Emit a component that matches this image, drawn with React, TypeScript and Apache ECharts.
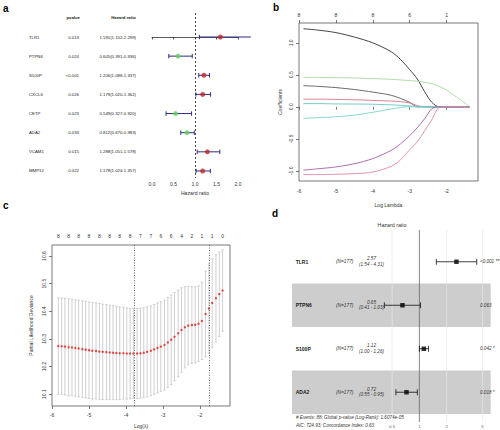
import React, { useEffect, useRef } from 'react';
import * as echarts from 'echarts';

const FONT = '"Liberation Sans", Arial, Helvetica, sans-serif';

// ---------- Panel a: univariate Cox forest ----------
const genesA = ['TLR1', 'PTPN6', 'S100P', 'CXCL6', 'CETP', 'ADA2', 'VCAM1', 'MMP12'];
const pvalA = ['0.013', '0.024', '<0.001', '0.026', '0.023', '0.033', '0.015', '0.022'];
const hrA = [1.591, 0.605, 1.206, 1.179, 0.549, 0.812, 1.288, 1.178];
const loA = [1.102, 0.391, 1.088, 1.02, 0.327, 0.67, 1.051, 1.024];
const hiA = [2.299, 0.936, 1.337, 1.362, 0.92, 0.983, 1.578, 1.357];
const ticksA = [0, 0.5, 1, 1.5, 2];

// ---------- Panel b: LASSO coefficient paths ----------
const lambdaB = [-5.88, -5.5, -5.0, -4.5, -4.0, -3.5, -3.25, -3.0, -2.8, -2.6, -2.4, -2.2, -2.0, -1.8, -1.6, -1.38];
const coefB1 = [1.22, 1.2, 1.16, 1.09, 1.0, 0.86, 0.74, 0.58, 0.44, 0.24, 0.07, 0, 0, 0, 0, 0];
const coefB2 = [0.46, 0.46, 0.455, 0.45, 0.44, 0.43, 0.42, 0.41, 0.4, 0.385, 0.36, 0.32, 0.26, 0.18, 0.1, 0];
const coefB3 = [0.33, 0.32, 0.3, 0.27, 0.23, 0.18, 0.13, 0.07, 0, 0, 0, 0, 0, 0, 0, 0];
const coefB4 = [0.12, 0.12, 0.115, 0.11, 0.1, 0.09, 0.08, 0.06, 0.02, 0, 0, 0, 0, 0, 0, 0];
const coefB5 = [0.05, 0.05, 0.045, 0.043, 0.04, 0.03, 0.023, 0.015, 0, 0, 0, 0, 0, 0, 0, 0];
const coefB6 = [-0.18, -0.17, -0.155, -0.13, -0.085, -0.035, -0.01, 0, 0, 0, 0, 0, 0, 0, 0, 0];
const coefB7 = [-0.99, -0.97, -0.94, -0.89, -0.81, -0.68, -0.58, -0.45, -0.33, -0.19, -0.03, 0, 0, 0, 0, 0];
const coefB8 = [-1.06, -1.06, -1.055, -1.045, -1.02, -0.93, -0.83, -0.67, -0.55, -0.38, -0.2, -0.01, 0, 0, 0, 0];
const pathLabelsB = ['1', '3', '8', '2', '5', '4', '6', '7'];
const pathColorsB = ['#2e2e2e', '#a8d8a0', '#5a5a5a', '#d9738a', '#62c6c6', '#78d2c8', '#a45ca4', '#de86a4'];
const ticksXB = [-6, -5, -4, -3, -2];
const topLabelsB = ['8', '8', '8', '6', '1'];
const ticksYB = [-1, -0.5, 0, 0.5, 1];

// ---------- Panel c: cross-validation curve ----------
const lambdaC = [-5.83, -5.74, -5.65, -5.55, -5.46, -5.37, -5.28, -5.18, -5.09, -5.0, -4.91, -4.81, -4.72, -4.63, -4.53, -4.44, -4.35, -4.26, -4.17, -4.07, -3.98, -3.89, -3.8, -3.7, -3.61, -3.52, -3.43, -3.33, -3.24, -3.15, -3.06, -2.96, -2.87, -2.78, -2.69, -2.59, -2.5, -2.41, -2.32, -2.22, -2.13, -2.04, -1.95, -1.85, -1.76, -1.67, -1.57, -1.48, -1.39];
const meanC = [10.274, 10.273, 10.272, 10.27, 10.269, 10.267, 10.265, 10.263, 10.261, 10.259, 10.257, 10.256, 10.254, 10.253, 10.252, 10.251, 10.25, 10.249, 10.248, 10.248, 10.247, 10.247, 10.247, 10.247, 10.248, 10.25, 10.253, 10.257, 10.262, 10.267, 10.272, 10.278, 10.287, 10.297, 10.308, 10.32, 10.332, 10.342, 10.348, 10.35, 10.351, 10.355, 10.365, 10.39, 10.41, 10.43, 10.447, 10.462, 10.475];
const upperC = [10.449, 10.448, 10.447, 10.446, 10.444, 10.442, 10.44, 10.438, 10.436, 10.434, 10.432, 10.43, 10.428, 10.426, 10.424, 10.422, 10.42, 10.418, 10.416, 10.414, 10.412, 10.411, 10.41, 10.41, 10.411, 10.413, 10.416, 10.42, 10.425, 10.43, 10.435, 10.441, 10.45, 10.459, 10.468, 10.477, 10.485, 10.489, 10.49, 10.489, 10.489, 10.492, 10.505, 10.545, 10.572, 10.59, 10.605, 10.615, 10.622];
const lowerC = [10.099, 10.098, 10.097, 10.094, 10.094, 10.092, 10.09, 10.088, 10.086, 10.084, 10.082, 10.082, 10.08, 10.08, 10.08, 10.08, 10.08, 10.08, 10.08, 10.082, 10.082, 10.083, 10.084, 10.084, 10.085, 10.087, 10.09, 10.094, 10.099, 10.104, 10.109, 10.115, 10.124, 10.135, 10.148, 10.163, 10.179, 10.195, 10.206, 10.211, 10.213, 10.218, 10.225, 10.235, 10.248, 10.27, 10.289, 10.309, 10.328];
const topCountsC = ['8', '8', '8', '8', '8', '8', '8', '8', '7', '7', '6', '6', '4', '2', '1', '1', '0'];
const lambdaMinC = -3.78;
const lambda1seC = -1.75;
const ticksXC = [-6, -5, -4, -3, -2];
const ticksYC = [10.1, 10.2, 10.3, 10.4, 10.5, 10.6];

// ---------- Panel d: multivariate Cox forest ----------
const genesD = ['TLR1', 'PTPN6', 'S100P', 'ADA2'];
const nD = [177, 177, 177, 177];
const hrD = [2.57, 0.65, 1.12, 0.72];
const loD = [1.54, 0.41, 1.0, 0.55];
const hiD = [4.31, 1.03, 1.26, 0.95];
const pD = ['<0.001 ***', '0.063', '0.042 *', '0.018 *'];
const gridLinesD = [0.5, 2, 5];
const tickLabelsD = [0.5, 1, 2, 5];
const footerD = ['# Events: 88; Global p-value (Log-Rank): 1.6074e-05', 'AIC: 724.93; Concordance Index: 0.63'];

function txt(x: number, y: number, text: string, o: any = {}) {
  const fill = o.fill || '#222';
  const align = o.align || 'left';
  return {
    type: 'text',
    x,
    y,
    silent: true,
    style: {
      text,
      fill,
      textFill: fill,
      fontSize: o.size || 4.3,
      fontFamily: FONT,
      fontWeight: o.weight || 'normal',
      fontStyle: o.style || 'normal',
      align,
      verticalAlign: 'middle',
      textAlign: align,
      textVerticalAlign: 'middle',
    },
  };
}

function buildOption(): any {
  const axisTxt = { color: '#333', fontSize: 5, fontFamily: FONT };
  const hiddenX = (gridIndex: number, min: number, max: number) => ({ type: 'value', gridIndex, min, max, show: false });

  const topPosC = lambdaC.filter((_, i) => i % 3 === 0);
  const bSeries = [coefB1, coefB2, coefB3, coefB4, coefB5, coefB6, coefB7, coefB8].map((c, k) => ({
    type: 'line',
    xAxisIndex: 2,
    yAxisIndex: 2,
    showSymbol: false,
    symbol: 'none',
    smooth: 0.3,
    silent: true,
    lineStyle: { color: pathColorsB[k], width: 0.9 },
    data: lambdaB.map((x, i) =>
      i === 0
        ? {
            value: [x, c[i]],
            label: { show: true, position: 'left', distance: 1.5, formatter: pathLabelsB[k], fontSize: 3.5, color: '#333' },
          }
        : [x, c[i]]
    ),
    z: 3 + k,
  }));

  return {
    animation: false,
    textStyle: { fontFamily: FONT },
    grid: [
      { left: 0, top: 13, width: 250, height: 165 },
      { left: 152, top: 13, width: 86, height: 165 },
      { left: 299, top: 23, width: 179, height: 158, show: true, borderColor: '#555', borderWidth: 0.8 },
      { left: 52, top: 245, width: 178, height: 161, show: true, borderColor: '#555', borderWidth: 0.8 },
      { left: 250, top: 230, width: 250, height: 192 },
      { left: 292, top: 230, width: 198.7, height: 192 },
    ],
    xAxis: [
      hiddenX(0, 0, 250),
      {
        type: 'value', gridIndex: 1, min: 0, max: 2, interval: 0.5,
        axisLine: { show: true, lineStyle: { color: '#333', width: 0.8 } },
        axisTick: { show: true, length: 2.5, lineStyle: { color: '#333', width: 0.8 } },
        axisLabel: { ...axisTxt, margin: 3, formatter: (v: number) => v.toFixed(1) },
        splitLine: { show: false },
        name: 'Hazard ratio', nameLocation: 'middle', nameGap: 12, nameTextStyle: { ...axisTxt, fontSize: 5.2 },
      },
      {
        type: 'value', gridIndex: 2, min: -6, max: -1.15, position: 'bottom',
        axisLine: { show: false },
        axisTick: { show: true, customValues: ticksXB, length: 3, lineStyle: { color: '#444', width: 0.7 } },
        axisLabel: { ...axisTxt, customValues: ticksXB, margin: 7 },
        splitLine: { show: false },
        name: 'Log Lambda', nameLocation: 'middle', nameGap: 21, nameTextStyle: { ...axisTxt },
      },
      {
        type: 'value', gridIndex: 2, min: -6, max: -1.15, position: 'top',
        axisLine: { show: false },
        axisTick: { show: true, customValues: ticksXB, length: 3, lineStyle: { color: '#444', width: 0.7 } },
        axisLabel: {
          ...axisTxt, customValues: ticksXB, margin: 6,
          formatter: (v: number) => topLabelsB[ticksXB.indexOf(Math.round(v))] ?? '',
        },
        splitLine: { show: false },
      },
      {
        type: 'value', gridIndex: 3, min: -6, max: -1.19, position: 'bottom',
        axisLine: { show: false },
        axisTick: { show: true, customValues: ticksXC, length: 3, lineStyle: { color: '#444', width: 0.7 } },
        axisLabel: { ...axisTxt, customValues: ticksXC, margin: 6 },
        splitLine: { show: false },
        name: 'Log(λ)', nameLocation: 'middle', nameGap: 17, nameTextStyle: { ...axisTxt },
      },
      {
        type: 'value', gridIndex: 3, min: -6, max: -1.19, position: 'top',
        axisLine: { show: false },
        axisTick: { show: false },
        axisLabel: {
          ...axisTxt, customValues: topPosC, margin: 7,
          formatter: (v: number) => {
            let best = 0;
            topPosC.forEach((p, j) => { if (Math.abs(p - v) < Math.abs(topPosC[best] - v)) best = j; });
            return topCountsC[best];
          },
        },
        splitLine: { show: false },
      },
      hiddenX(4, 0, 250),
      { type: 'log', gridIndex: 5, min: 0.039, max: 6.15, show: false },
    ],
    yAxis: [
      { type: 'value', gridIndex: 0, min: -1.254, max: 7.367, inverse: true, show: false },
      { type: 'value', gridIndex: 1, min: -1.254, max: 7.367, inverse: true, show: false },
      {
        type: 'value', gridIndex: 2, min: -1.16, max: 1.31,
        axisLine: { show: false },
        axisTick: { show: true, customValues: ticksYB, length: 3, lineStyle: { color: '#444', width: 0.7 } },
        axisLabel: { ...axisTxt, customValues: ticksYB, rotate: 90, margin: 6, formatter: (v: number) => v.toFixed(1) },
        splitLine: { show: false },
        name: 'Coefficients', nameLocation: 'middle', nameGap: 17, nameTextStyle: { ...axisTxt },
      },
      {
        type: 'value', gridIndex: 3, min: 10.057, max: 10.64,
        axisLine: { show: false },
        axisTick: { show: true, customValues: ticksYC, length: 3, lineStyle: { color: '#444', width: 0.7 } },
        axisLabel: { ...axisTxt, customValues: ticksYC, rotate: 90, margin: 6, formatter: (v: number) => v.toFixed(1) },
        splitLine: { show: false },
        name: 'Partial Likelihood Deviance', nameLocation: 'middle', nameGap: 19, nameTextStyle: { ...axisTxt },
      },
      { type: 'value', gridIndex: 4, min: -0.23, max: 4.184, inverse: true, show: false },
      { type: 'value', gridIndex: 5, min: -0.23, max: 4.184, inverse: true, show: false },
    ],
    graphic: [
      txt(3, 8, 'a', { size: 10, weight: 'bold', fill: '#000' }),
      txt(273, 7, 'b', { size: 10, weight: 'bold', fill: '#000' }),
      txt(3, 205, 'c', { size: 10, weight: 'bold', fill: '#000' }),
      txt(272, 213, 'd', { size: 10, weight: 'bold', fill: '#000' }),
      txt(392, 225, 'Hazard ratio', { size: 5.3, align: 'center', fill: '#333' }),
      txt(296, 417.7, footerD[0], { size: 4.6, style: 'italic', fill: '#333' }),
      txt(296, 425.3, footerD[1], { size: 4.6, style: 'italic', fill: '#333' }),
    ],
    series: [
      // a: table header
      {
        type: 'custom', xAxisIndex: 0, yAxisIndex: 0, silent: true,
        data: [[-1]],
        renderItem: (_p: any, api: any) => {
          const r = api.value(0);
          return {
            type: 'group',
            children: [
              txt(api.coord([80, r])[0], api.coord([80, r])[1], 'pvalue', { align: 'right', weight: 'bold', size: 4.3 }),
              txt(api.coord([136, r])[0], api.coord([136, r])[1], 'Hazard ratio', { align: 'right', weight: 'bold', size: 4.3 }),
            ],
          };
        },
      },
      // a: table rows
      {
        type: 'custom', xAxisIndex: 0, yAxisIndex: 0, silent: true,
        data: genesA.map((_, i) => [i]),
        renderItem: (p: any, api: any) => {
          const i = p.dataIndex;
          const r = api.value(0);
          const hrText = `${hrA[i].toFixed(3)}(${loA[i].toFixed(3)}-${hiA[i].toFixed(3)})`;
          return {
            type: 'group',
            children: [
              txt(api.coord([29, r])[0], api.coord([29, r])[1], genesA[i], { size: 4.3 }),
              txt(api.coord([79, r])[0], api.coord([79, r])[1], pvalA[i], { align: 'right', size: 4.3 }),
              txt(api.coord([136, r])[0], api.coord([136, r])[1], hrText, { align: 'right', size: 4.3 }),
            ],
          };
        },
      },
      // a: CI bars
      {
        type: 'custom', xAxisIndex: 1, yAxisIndex: 1, silent: true, z: 3,
        data: genesA.map((_, i) => [i, loA[i], hiA[i]]),
        renderItem: (_p: any, api: any) => {
          const r = api.value(0);
          const a = api.coord([api.value(1), r]);
          const b = api.coord([api.value(2), r]);
          const st = { stroke: '#2b2b85', lineWidth: 1 };
          const ch: any[] = [
            { type: 'line', shape: { x1: a[0], y1: a[1], x2: b[0], y2: b[1] }, style: st },
            { type: 'line', shape: { x1: a[0], y1: a[1] - 2.2, x2: a[0], y2: a[1] + 2.2 }, style: st },
          ];
          if (api.value(2) <= ticksA[ticksA.length - 1]) {
            ch.push({ type: 'line', shape: { x1: b[0], y1: b[1] - 2.2, x2: b[0], y2: b[1] + 2.2 }, style: st });
          }
          return { type: 'group', children: ch };
        },
      },
      // a: points + reference line
      {
        type: 'scatter', xAxisIndex: 1, yAxisIndex: 1, silent: true, z: 4, symbolSize: 5,
        data: hrA.map((h, i) => ({ value: [h, i], itemStyle: { color: h > 1 ? '#c1272d' : '#63cf5f' } })),
        markLine: {
          silent: true, symbol: ['none', 'none'], label: { show: false },
          lineStyle: { color: '#333', type: [2, 2], width: 0.9 },
          data: [{ xAxis: 1 }],
        },
      },
      // b: coefficient paths
      ...bSeries,
      // c: error bars
      {
        type: 'custom', xAxisIndex: 4, yAxisIndex: 3, silent: true, z: 2,
        data: lambdaC.map((l, i) => [l, lowerC[i], upperC[i]]),
        renderItem: (_p: any, api: any) => {
          const a = api.coord([api.value(0), api.value(1)]);
          const b = api.coord([api.value(0), api.value(2)]);
          const st = { stroke: '#c4c4c4', lineWidth: 0.8 };
          const w = 1.2;
          return {
            type: 'group',
            children: [
              { type: 'line', shape: { x1: a[0], y1: a[1], x2: b[0], y2: b[1] }, style: st },
              { type: 'line', shape: { x1: a[0] - w, y1: a[1], x2: a[0] + w, y2: a[1] }, style: st },
              { type: 'line', shape: { x1: b[0] - w, y1: b[1], x2: b[0] + w, y2: b[1] }, style: st },
            ],
          };
        },
      },
      // c: mean points + lambda lines
      {
        type: 'scatter', xAxisIndex: 4, yAxisIndex: 3, silent: true, z: 4, symbolSize: 2.4,
        itemStyle: { color: '#e3211c' },
        data: lambdaC.map((l, i) => [l, meanC[i]]),
        markLine: {
          silent: true, symbol: ['none', 'none'], label: { show: false },
          lineStyle: { color: '#444', type: [1, 1.5], width: 0.8 },
          data: [{ xAxis: lambdaMinC }, { xAxis: lambda1seC }],
        },
      },
      // d: table text
      {
        type: 'custom', xAxisIndex: 6, yAxisIndex: 4, silent: true, z: 5,
        data: genesD.map((_, i) => [i + 0.5]),
        renderItem: (p: any, api: any) => {
          const i = p.dataIndex;
          const r = api.value(0);
          const g = api.coord([45.7, r]);
          const n = api.coord([86, r]);
          const h = api.coord([121.5, r]);
          const pv = api.coord([230, r]);
          return {
            type: 'group',
            children: [
              txt(g[0], g[1], genesD[i], { weight: 'bold', size: 5 }),
              txt(n[0], n[1], `(N=${nD[i]})`, { style: 'italic', size: 4.8, fill: '#333' }),
              txt(h[0], h[1] - 3, hrD[i].toFixed(2), { style: 'italic', size: 4.6, align: 'center', fill: '#333' }),
              txt(h[0], h[1] + 2.6, `(${loD[i].toFixed(2)} - ${hiD[i].toFixed(2)})`, { style: 'italic', size: 4.6, align: 'center', fill: '#333' }),
              txt(pv[0], pv[1], pD[i], { style: 'italic', size: 4.6, fill: '#333' }),
            ],
          };
        },
      },
      // d: shaded bands
      {
        type: 'custom', xAxisIndex: 7, yAxisIndex: 5, silent: true, z: 1,
        data: genesD.map((_, i) => [i]).filter((d) => d[0] % 2 === 1),
        renderItem: (p: any, api: any) => {
          const cs = p.coordSys;
          const y0 = api.coord([1, api.value(0)])[1];
          const y1 = api.coord([1, api.value(0) + 1])[1];
          return { type: 'rect', shape: { x: cs.x, y: y0, width: cs.width, height: y1 - y0 }, style: { fill: '#cdcdcd' } };
        },
      },
      // d: vertical grid lines
      {
        type: 'custom', xAxisIndex: 7, yAxisIndex: 5, silent: true, z: 2,
        data: gridLinesD.map((v) => [v]),
        renderItem: (p: any, api: any) => {
          const cs = p.coordSys;
          const x = api.coord([api.value(0), 0])[0];
          return { type: 'line', shape: { x1: x, y1: cs.y, x2: x, y2: cs.y + cs.height }, style: { stroke: '#e6e6e6', lineWidth: 0.7 } };
        },
      },
      // d: reference line at HR = 1 and tick labels
      {
        type: 'custom', xAxisIndex: 7, yAxisIndex: 5, silent: true, z: 3,
        data: tickLabelsD.map((v) => [v]),
        renderItem: (p: any, api: any) => {
          const cs = p.coordSys;
          const v = api.value(0);
          const x = api.coord([v, 0])[0];
          const ch: any[] = [txt(x, cs.y + cs.height + 4, String(v), { size: 4.4, align: 'center', fill: '#666' })];
          if (v === 1) {
            ch.push({ type: 'line', shape: { x1: x, y1: cs.y, x2: x, y2: cs.y + cs.height }, style: { stroke: '#6a6a6a', lineWidth: 0.8 } });
          }
          return { type: 'group', children: ch };
        },
      },
      // d: CI bars
      {
        type: 'custom', xAxisIndex: 7, yAxisIndex: 5, silent: true, z: 4,
        data: genesD.map((_, i) => [i + 0.5, loD[i], hiD[i]]),
        renderItem: (_p: any, api: any) => {
          const r = api.value(0);
          const a = api.coord([api.value(1), r]);
          const b = api.coord([api.value(2), r]);
          const st = { stroke: '#111', lineWidth: 0.8 };
          return {
            type: 'group',
            children: [
              { type: 'line', shape: { x1: a[0], y1: a[1], x2: b[0], y2: b[1] }, style: st },
              { type: 'line', shape: { x1: a[0], y1: a[1] - 3, x2: a[0], y2: a[1] + 3 }, style: st },
              { type: 'line', shape: { x1: b[0], y1: b[1] - 3, x2: b[0], y2: b[1] + 3 }, style: st },
            ],
          };
        },
      },
      // d: point estimates
      {
        type: 'scatter', xAxisIndex: 7, yAxisIndex: 5, silent: true, z: 5, symbol: 'rect', symbolSize: 4.5,
        itemStyle: { color: '#000' },
        data: hrD.map((h, i) => [h, i + 0.5]),
      },
    ],
  };
}

export default function App() {
  const ref = useRef<HTMLDivElement>(null);
  useEffect(() => {
    if (!ref.current) return;
    const chart = echarts.init(ref.current, null, { renderer: 'svg' });
    chart.setOption(buildOption());
    return () => chart.dispose();
  }, []);
  return (
    <div
      ref={ref}
      style={{ position: 'fixed', left: 0, top: 0, width: 500, height: 430, background: '#fff' }}
    />
  );
}
